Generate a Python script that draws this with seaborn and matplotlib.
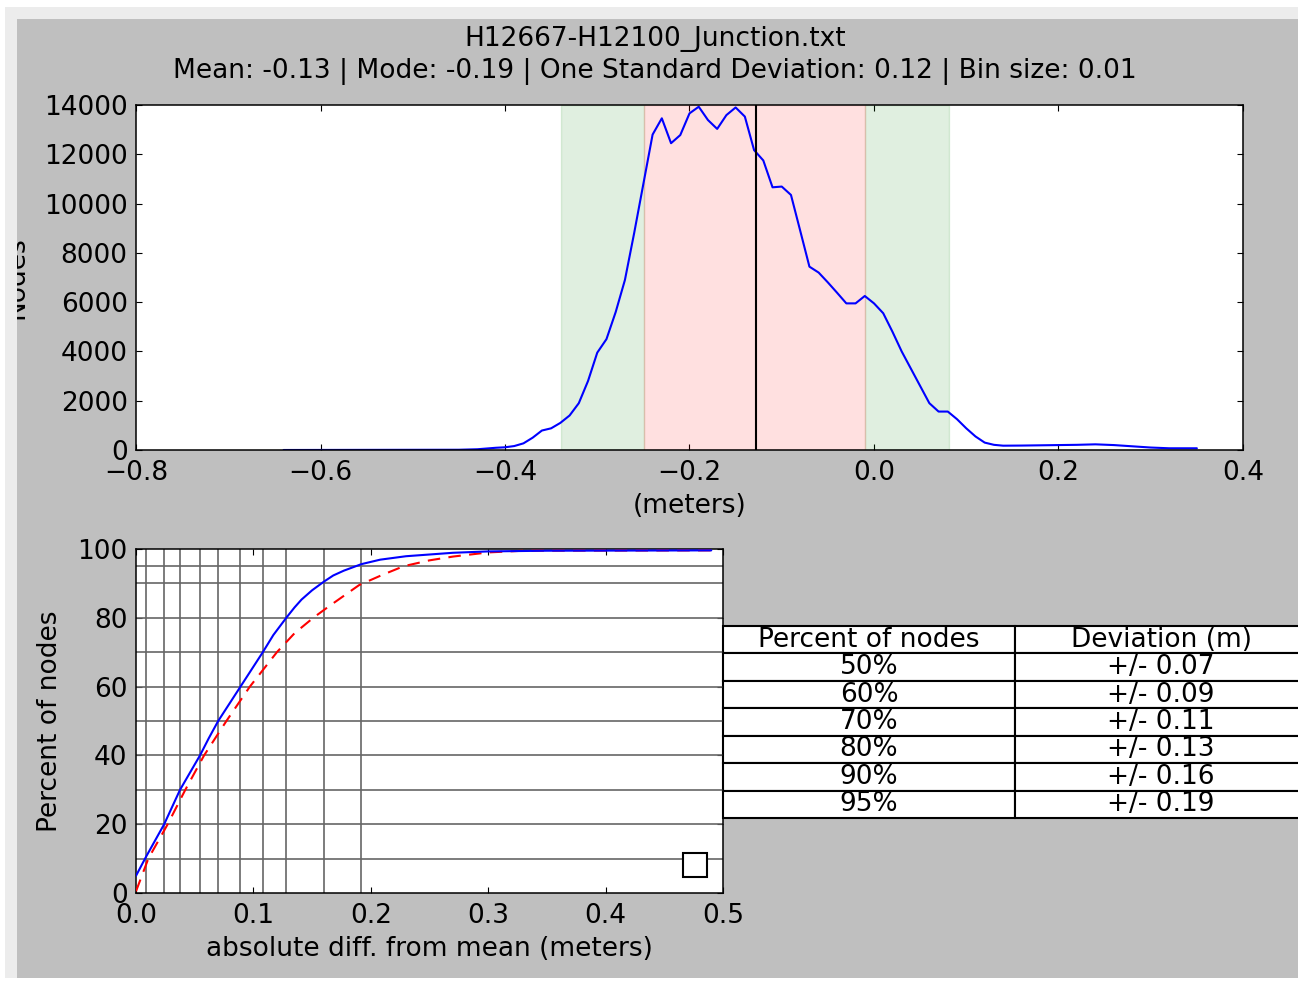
import numpy as np
import pandas as pd
import seaborn as sns
import matplotlib.pyplot as plt
from matplotlib.patches import Rectangle

# --- data ---
title_file = "H12667-H12100_Junction.txt"
title_stats = "Mean: -0.13 | Mode: -0.19 | One Standard Deviation: 0.12 | Bin size: 0.01"

# histogram (bin size 0.01), nodes per bin
hist_x = [-0.64, -0.55, -0.45, -0.43, -0.41, -0.40, -0.39, -0.38, -0.37, -0.36,
          -0.35, -0.34, -0.33, -0.32, -0.31, -0.30, -0.29, -0.28, -0.27, -0.26,
          -0.25, -0.24, -0.23, -0.22, -0.21, -0.20, -0.19, -0.18, -0.17, -0.16,
          -0.15, -0.14, -0.13, -0.12, -0.11, -0.10, -0.09, -0.08, -0.07, -0.06,
          -0.05, -0.04, -0.03, -0.02, -0.01, 0.00, 0.01, 0.02, 0.03, 0.04,
          0.05, 0.06, 0.07, 0.08, 0.09, 0.10, 0.11, 0.12, 0.13, 0.14,
          0.16, 0.18, 0.20, 0.22, 0.24, 0.26, 0.28, 0.30, 0.32, 0.35]
hist_counts = [0, 5, 10, 30, 90, 110, 160, 270, 500, 790,
               880, 1100, 1400, 1900, 2800, 3950, 4500, 5600, 6900, 8800,
               10800, 12800, 13460, 12450, 12780, 13660, 13930, 13390, 13030, 13590,
               13900, 13530, 12170, 11750, 10660, 10690, 10350, 8900, 7440, 7200,
               6800, 6380, 5950, 5950, 6250, 5950, 5550, 4800, 4000, 3300,
               2600, 1900, 1560, 1560, 1250, 880, 550, 300, 210, 175,
               180, 190, 200, 210, 230, 200, 150, 100, 70, 70]

mean_val = -0.128
one_sd = [-0.249, -0.010]
outer_band = [-0.339, 0.081]

# cumulative curves (percent of nodes vs absolute diff from mean)
cum_x = [0.0, 0.0085, 0.024, 0.0375, 0.0545, 0.062, 0.070, 0.089, 0.108, 0.117,
         0.128, 0.135, 0.141, 0.150, 0.160, 0.168, 0.177, 0.192, 0.208, 0.23,
         0.27, 0.30, 0.35, 0.49]
cum_pct = [5, 10.5, 20, 30, 40, 45, 50, 60, 70, 75,
           80, 83, 85.3, 88, 90.5, 92.3, 93.7, 95.6, 96.9, 97.9,
           98.9, 99.3, 99.5, 99.6]
norm_x = [0.0, 0.0105, 0.027, 0.042, 0.058, 0.077, 0.097, 0.120, 0.135, 0.151,
          0.165, 0.190, 0.210, 0.228, 0.25, 0.27, 0.30, 0.33, 0.49]
norm_pct = [0.5, 10, 20, 30, 40, 50, 60, 70, 75.5, 80,
            83.5, 89.5, 92.5, 95, 96.7, 97.8, 99.0, 99.5, 99.6]

grid_pct = [10, 20, 30, 40, 50, 60, 70, 80, 90, 95]
grid_dev = [0.0085, 0.024, 0.0375, 0.0545, 0.070, 0.089, 0.108, 0.128, 0.160, 0.192]

table_pct = ["50%", "60%", "70%", "80%", "90%", "95%"]
table_dev = ["+/- 0.07", "+/- 0.09", "+/- 0.11", "+/- 0.13", "+/- 0.16", "+/- 0.19"]

hist_df = pd.DataFrame({"x": hist_x, "n": hist_counts})
cum_df = pd.DataFrame({"x": cum_x, "p": cum_pct})
norm_df = pd.DataFrame({"x": norm_x, "p": norm_pct})

sns.set_style("ticks", {
    "axes.edgecolor": "black",
    "xtick.direction": "in",
    "ytick.direction": "in",
    "xtick.top": True,
    "ytick.right": True,
    "xtick.color": "black",
    "ytick.color": "black",
    "text.color": "black",
    "axes.labelcolor": "black",
})
plt.rcParams["font.family"] = ["DejaVu Sans"]
plt.rcParams["font.size"] = 19
plt.rcParams["axes.linewidth"] = 1.1
plt.rcParams["xtick.major.size"] = 4.5
plt.rcParams["ytick.major.size"] = 4.5
plt.rcParams["xtick.major.pad"] = 7
plt.rcParams["ytick.major.pad"] = 6

W, H = 1300, 981
fig = plt.figure(figsize=(13, 9.81), dpi=100, facecolor="#bfbfbf")

def fx(px):
    return px / W

def fy(py):
    return 1 - py / H

# --- top histogram ---
ax1 = fig.add_axes([fx(136), fy(450), fx(1243) - fx(136), fy(105) - fy(450)])
ax1.axvspan(outer_band[0], one_sd[0], color="g", alpha=0.12)
ax1.axvspan(one_sd[1], outer_band[1], color="g", alpha=0.12)
ax1.axvspan(one_sd[0], one_sd[1], color="r", alpha=0.12)
sns.lineplot(data=hist_df, x="x", y="n", ax=ax1, color="blue", lw=1.5, sort=False)
ax1.axvline(mean_val, color="black", lw=1.5)
ax1.set_xlim(-0.8, 0.4)
ax1.set_ylim(0, 14000)
ax1.set_xticks(np.arange(-0.8, 0.41, 0.2))
ax1.set_yticks(np.arange(0, 14001, 2000))
ax1.set_xticklabels(["\u22120.8", "\u22120.6", "\u22120.4", "\u22120.2", "0.0", "0.2", "0.4"])
ax1.set_xlabel("(meters)", fontsize=19)
ax1.set_ylabel("Nodes", fontsize=19)
ax1.xaxis.set_label_coords(0.5, -0.125)
ax1.yaxis.set_label_coords(-0.0967, 0.5)
for s in ax1.spines.values():
    s.set_visible(True)

fig.text(fx(655), fy(26), title_file + "\n" + title_stats, ha="center", va="top",
         fontsize=19, linespacing=1.3)

# --- bottom cumulative plot ---
ax2 = fig.add_axes([fx(136), fy(893), fx(723) - fx(136), fy(549) - fy(893)])
for p in grid_pct:
    ax2.axhline(p, color="0.4", lw=1.2, zorder=1)
for d in grid_dev:
    ax2.axvline(d, color="0.4", lw=1.2, zorder=1)
sns.lineplot(data=norm_df, x="x", y="p", ax=ax2, color="red", lw=1.5,
             linestyle="--", dashes=False, sort=False, zorder=3)
ax2.lines[-1].set_dashes([6, 4])
sns.lineplot(data=cum_df, x="x", y="p", ax=ax2, color="blue", lw=1.5, sort=False, zorder=4)
ax2.set_xlim(0, 0.5)
ax2.set_ylim(0, 100)
ax2.set_xticks(np.arange(0, 0.51, 0.1))
ax2.set_xticklabels(["0.0", "0.1", "0.2", "0.3", "0.4", "0.5"])
ax2.set_yticks(np.arange(0, 101, 20))
ax2.set_xlabel("absolute diff. from mean (meters)", fontsize=19)
ax2.set_ylabel("Percent of nodes", fontsize=19)
ax2.xaxis.set_label_coords(0.5, -0.125)
ax2.yaxis.set_label_coords(-0.124, 0.5)
for s in ax2.spines.values():
    s.set_visible(True)
leg = ax2.legend(handles=[], loc="lower right", borderpad=0.45, borderaxespad=0.6,
                 fancybox=False, edgecolor="black", framealpha=1)
leg.get_frame().set_linewidth(1.5)

tbl = ax2.table(cellText=[[a, b] for a, b in zip(table_pct, table_dev)],
                colLabels=["Percent of nodes", "Deviation (m)"],
                cellLoc="center", bbox=[1.0, 0.218, 0.995, 0.558])
tbl.auto_set_font_size(False)
tbl.set_fontsize(19)
for cell in tbl.get_celld().values():
    cell.set_edgecolor("black")
    cell.set_linewidth(1.5)
    cell.set_facecolor("white")
tbl.set_clip_on(False)

# --- screenshot-like outer frame ---
frame = [((0, 0), fx(17), 1, "#ececec"),
         ((0, fy(19)), 1, 19 / H, "#ececec"),
         ((0, 0), fx(5), 1, "white"),
         ((0, fy(7)), 1, 7 / H, "white"),
         ((fx(1298), 0), 2 / W, 1, "white"),
         ((0, 0), 1, 3 / H, "white")]
for xy, w, h, c in frame:
    fig.add_artist(Rectangle(xy, w, h, transform=fig.transFigure, color=c, lw=0, zorder=100))

fig.savefig("out.png", dpi=100, facecolor=fig.get_facecolor())
